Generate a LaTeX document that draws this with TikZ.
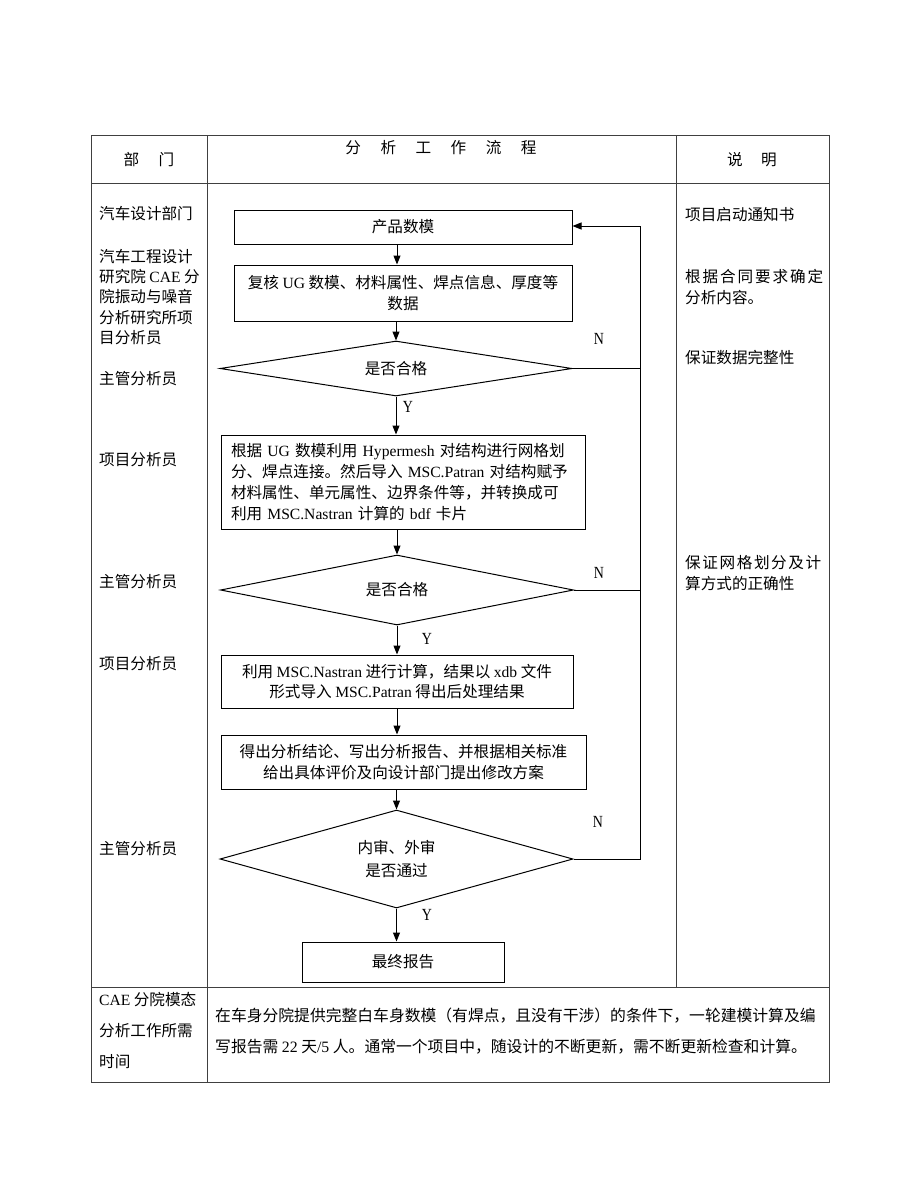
\documentclass[tikz,border=0pt]{standalone}
\usepackage{fontspec}
\setmainfont{Noto Sans CJK SC}
\newfontfamily\lat{Liberation Serif}
\newcommand\E[1]{{\lat #1}}
\newcommand\fs{\fontsize{15.6}{21}\selectfont}
\usetikzlibrary{arrows.meta,shapes.geometric}
\begin{document}
\begin{tikzpicture}[x=1pt,y=-1pt,
  tl/.style={draw=black!75,line width=0.9pt},
  fbox/.style={draw,line width=1pt,rectangle,inner sep=0pt,font=\fs,align=center},
  dia/.style={draw,line width=1pt,diamond,inner sep=0pt,font=\fs,align=center},
  arr/.style={line width=1pt,-{Triangle[length=9pt,width=7pt]}},
  ln/.style={line width=1pt},
  lbl/.style={font=\lat\fontsize{17}{17}\selectfont,xscale=0.82,inner sep=0pt},
  txt/.style={font=\fs,inner sep=0pt,anchor=west,align=left},
]
\useasboundingbox[fill=white] (0,0) rectangle (920,1191);
% table
\draw[tl] (91,135) rectangle (829,1082);
\draw[tl] (207,135) -- (207,1082);
\draw[tl] (676,135) -- (676,987);
\draw[tl] (91,183) -- (829,183);
\draw[tl] (91,987) -- (829,987);
% headers
\node[txt,anchor=center] (h1) at (149,160) {部\hspace{19.5pt}门};
\node[txt,anchor=center] (h2) at (441,148) {分\hspace{19.5pt}析\hspace{19.5pt}工\hspace{19.5pt}作\hspace{19.5pt}流\hspace{19.5pt}程};
\node[txt,anchor=center] (h3) at (752,160) {说\hspace{18.5pt}明};
% left column
\node[txt] (l1) at (99,214) {汽车设计部门};
\node[txt,font=\fontsize{15.6}{20.3}\selectfont] (l2) at (99,297) {汽车工程设计\\研究院 \E{CAE} 分\\院振动与噪音\\分析研究所项\\目分析员};
\node[txt] (l3) at (99,379) {主管分析员};
\node[txt] (l4) at (99,460) {项目分析员};
\node[txt] (l5) at (99,582) {主管分析员};
\node[txt] (l6) at (99,664) {项目分析员};
\node[txt] (l7) at (99,849) {主管分析员};
\node[txt,font=\fontsize{15.6}{31}\selectfont] (l8) at (99,1030) {\E{CAE} 分院模态\\分析工作所需\\时间};
% right column
\node[txt] (r1) at (685,215) {项目启动通知书};
\node[txt] (r2) at (685,287) {\makebox[138pt][s]{根\hfill 据\hfill 合\hfill 同\hfill 要\hfill 求\hfill 确\hfill 定}\\分析内容。};
\node[txt] (r3) at (685,358) {保证数据完整性};
\node[txt] (r4) at (685,573) {\makebox[136pt][s]{保\hfill 证\hfill 网\hfill 格\hfill 划\hfill 分\hfill 及\hfill 计}\\算方式的正确性};
% bottom row
\node[txt,font=\fontsize{15.8}{31}\selectfont] (bt) at (215,1031.5) {在车身分院提供完整白车身数模（有焊点，且没有干涉）的条件下，一轮建模计算及编\\写报告需 \E{22} 天\E{/5} 人。通常一个项目中，随设计的不断更新，需不断更新检查和计算。};
% flow
\coordinate (ax) at (397,0);
\coordinate (fb) at (640,226);
\node[fbox,minimum width=338pt,minimum height=34pt] (b1) at (403,227) {产品数模};
\node[fbox,minimum width=338pt,minimum height=56pt] (b2) at (403,293) {复核 \E{UG} 数模、材料属性、焊点信息、厚度等\\数据};
\node[dia,minimum width=352pt,minimum height=55pt,aspect=6.4] (d1) at (396,368.5) {是否合格};
\node[fbox,minimum width=364pt,minimum height=94pt,text width=344pt,align=left] (b3) at (403,482) {根据 \E{UG} 数模利用 \E{Hypermesh} 对结构进行网格划\\分、焊点连接。然后导入 \E{MSC.Patran} 对结构赋予\\材料属性、单元属性、边界条件等，并转换成可\\利用 \E{MSC.Nastran} 计算的 \E{bdf} 卡片};
\node[dia,minimum width=353pt,minimum height=70pt,aspect=5] (d2) at (397,590) {是否合格};
\node[fbox,minimum width=352pt,minimum height=53pt,font=\fontsize{15.6}{20.5}\selectfont] (b4) at (397,681.5) {利用 \E{MSC.Nastran} 进行计算，结果以 \E{xdb} 文件\\形式导入 \E{MSC.Patran} 得出后处理结果};
\node[fbox,minimum width=365pt,minimum height=54pt] (b5) at (403.5,762) {得出分析结论、写出分析报告、并根据相关标准\\给出具体评价及向设计部门提出修改方案};
\node[dia,minimum width=353pt,minimum height=98pt,aspect=3.6,font=\fontsize{15.6}{23}\selectfont] (d3) at (396.5,859) {内审、外审\\是否通过};
\node[fbox,minimum width=202pt,minimum height=40pt] (b6) at (403,962) {最终报告};
% connectors
\draw[arr] (b1.south -| ax) -- (b2.north -| ax);
\draw[arr] (b2.south -| d1.north) -- (d1.north);
\draw[arr] (d1.south) -- (b3.north -| d1.south);
\draw[arr] (b3.south -| d2.north) -- (d2.north);
\draw[arr] (d2.south) -- (b4.north -| d2.south);
\draw[arr] (b4.south) -- (b5.north -| b4.south);
\draw[arr] (b5.south -| d3.north) -- (d3.north);
\draw[arr] (d3.south) -- (b6.north -| d3.south);
\draw[ln] (d1.east) -- (d1.east -| fb);
\draw[ln] (d2.east) -- (d2.east -| fb);
\draw[arr] (d3.east) -| (fb) -- (b1.east |- fb);
% labels
\node[lbl] (n1) at (599,339) {N};
\node[lbl] (n2) at (599,573) {N};
\node[lbl] (n3) at (598,822) {N};
\node[lbl] (y1) at (408,407) {Y};
\node[lbl] (y2) at (427,639) {Y};
\node[lbl] (y3) at (427,915) {Y};
\end{tikzpicture}
\end{document}
